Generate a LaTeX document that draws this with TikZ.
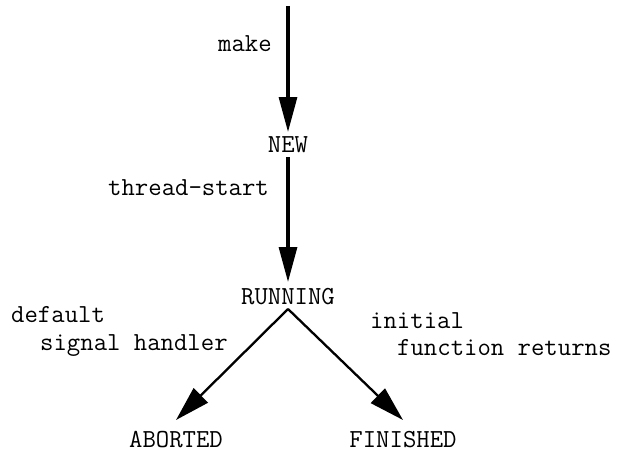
\documentclass[tikz,border=0pt]{standalone}
\usetikzlibrary{arrows.meta}
\begin{document}
\begin{tikzpicture}[x=1pt,y=-1pt,
  every node/.style={font=\fontsize{26}{31}\selectfont\ttfamily},
  state/.style={inner sep=0pt,outer sep=0pt,text height=15pt,text depth=0pt,anchor=base},
  lbl/.style={inner sep=0pt,anchor=base west},
  vedge/.style={line width=3.1pt,-{Triangle[length=35pt,width=18pt]}},
  dedge/.style={line width=2.3pt,-{Triangle[length=35pt,width=20pt]}}]
\useasboundingbox (0,0) rectangle (618,452);
\coordinate (top) at (288,6);
\node[state] (new) at (288,152) {NEW};
\node[state] (running) at (288,304) {RUNNING};
\node[state] (aborted) at (176,447) {ABORTED};
\node[state] (finished) at (403,447) {FINISHED};
\node[lbl] (lmake) at (218,52) {make};
\node[lbl] (lstart) at (108,195) {thread-start};
\node[lbl] (ldef) at (11,322) {default};
\node[lbl] (lsig) at (40,350) {signal handler};
\node[lbl] (linit) at (370,328) {initial};
\node[lbl] (lfun) at (397,355) {function returns};
\draw[vedge] (top) -- ([yshift=5pt]new.north);
\draw[vedge] ([yshift=-5pt]new.south) -- ([yshift=7pt]running.north);
\draw[dedge] ([yshift=-5pt]running.south) -- ([yshift=12pt]aborted.north);
\draw[dedge] ([yshift=-5pt]running.south) -- ([yshift=12pt]finished.north);
\end{tikzpicture}
\end{document}
